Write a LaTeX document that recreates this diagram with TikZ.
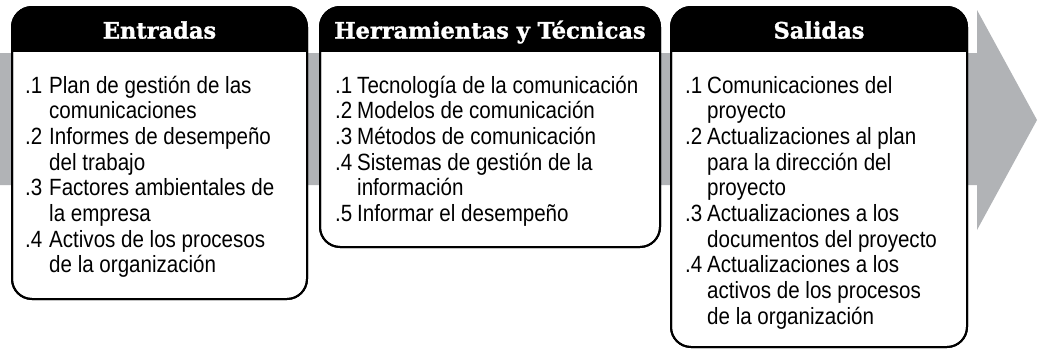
\documentclass[tikz,border=0pt]{standalone}
\usepackage{fontspec}
\setmainfont{Liberation Sans}[FakeStretch=0.875]
\newfontfamily\headfont{DejaVu Serif}[BoldFeatures={FakeBold=1.5}]
\definecolor{bandgray}{RGB}{177,179,182}
\tikzset{
  procbox/.style={draw=black, fill=white, line width=2pt, rounded corners=20pt,
    inner sep=0pt, outer sep=0pt, anchor=north west},
  headtext/.style={text=white, font=\headfont\bfseries\fontsize{22.5}{26}\selectfont,
    inner sep=0pt, anchor=base},
  listtext/.style={font=\fontsize{23.5}{25.7}\selectfont, inner sep=0pt,
    anchor=base west, align=left}
}
\newcommand\hdr[1]{%
  \begin{scope}
    \clip[rounded corners=20pt] (#1.north west) rectangle (#1.south east);
    \fill[black] (#1.north west) rectangle ([yshift=-45pt]#1.north east);
  \end{scope}
  \draw[line width=2pt, rounded corners=20pt] (#1.north west) rectangle (#1.south east);
}
\begin{document}
\begin{tikzpicture}[x=1pt,y=-1pt]
\useasboundingbox (0,0) rectangle (1038,351);
% gray process arrow
\fill[bandgray] (0,53) -- (977,53) -- (977,10) -- (1037,120) -- (977,230) -- (977,185) -- (0,185) -- cycle;

% boxes
\node[procbox, minimum width=295pt, minimum height=292pt] (b1) at (12,7) {};
\node[procbox, minimum width=340pt, minimum height=240pt] (b2) at (320,7) {};
\node[procbox, minimum width=296pt, minimum height=340pt] (b3) at (671,7) {};
\hdr{b1}
\hdr{b2}
\hdr{b3}

% headers
\node[headtext] (h1) at (159.5,38.5) {Entradas};
\node[headtext] (h2) at (490,38.5) {Herramientas y Técnicas};
\node[headtext] (h3) at (819,38.5) {Salidas};

% lists
\node[listtext] (l1) at (25,93) {\begin{tabular}[t]{@{}p{24pt}@{}l@{}}
.1 & Plan de gestión de las\\
   & comunicaciones\\
.2 & Informes de desempeño\\
   & del trabajo\\
.3 & Factores ambientales de\\
   & la empresa\\
.4 & Activos de los procesos\\
   & de la organización
\end{tabular}};

\node[listtext] (l2) at (335,93) {\begin{tabular}[t]{@{}p{22pt}@{}l@{}}
.1 & Tecnología de la comunicación\\
.2 & Modelos de comunicación\\
.3 & Métodos de comunicación\\
.4 & Sistemas de gestión de la\\
   & información\\
.5 & Informar el desempeño
\end{tabular}};

\node[listtext] (l3) at (685,93) {\begin{tabular}[t]{@{}p{22pt}@{}l@{}}
.1 & Comunicaciones del\\
   & proyecto\\
.2 & Actualizaciones al plan\\
   & para la dirección del\\
   & proyecto\\
.3 & Actualizaciones a los\\
   & documentos del proyecto\\
.4 & Actualizaciones a los\\
   & activos de los procesos\\
   & de la organización
\end{tabular}};
\end{tikzpicture}
\end{document}
